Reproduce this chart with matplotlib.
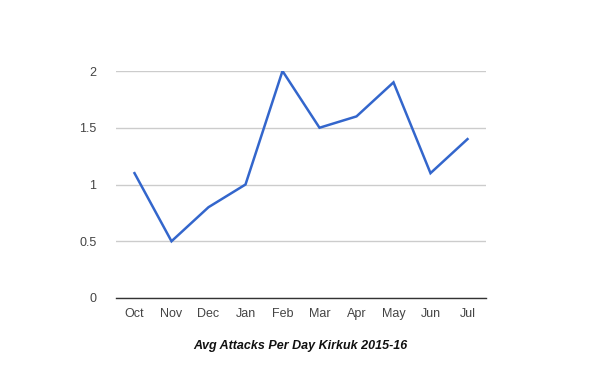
import matplotlib.pyplot as plt

# ── Data ───────────────────────────────────────────────────────────────────────
months = ["Oct", "Nov", "Dec", "Jan", "Feb", "Mar", "Apr", "May", "Jun", "Jul"]
attacks = [1.1, 0.5, 0.8, 1.0, 2.0, 1.5, 1.6, 1.9, 1.1, 1.4]
y_ticks = [0, 0.5, 1, 1.5, 2]
y_labels = ["0", "0.5", "1", "1.5", "2"]

plt.rcParams["font.family"] = ["Liberation Sans", "DejaVu Sans"]

# ── Chart ──────────────────────────────────────────────────────────────────────
fig = plt.figure(figsize=(6, 3.71), dpi=100)
ax = fig.add_axes([116 / 600, 73 / 371, 370 / 600, 227 / 371])

x = list(range(len(months)))
ax.plot(x, attacks, color="#3366cc", linewidth=1.8, solid_joinstyle="miter")

ax.set_xlim(-0.5, len(months) - 0.5)
ax.set_ylim(0, 2)
ax.set_yticks(y_ticks)
ax.set_yticklabels(y_labels)
ax.set_xticks(x)
ax.set_xticklabels(months)
ax.tick_params(length=0, labelsize=9, colors="#444444")
ax.tick_params(axis="y", pad=14)
ax.tick_params(axis="x", pad=7)

ax.grid(axis="y", color="#cccccc", linewidth=1)
ax.set_axisbelow(True)
for side in ["top", "right", "left"]:
    ax.spines[side].set_visible(False)
ax.spines["bottom"].set_color("#333333")
ax.spines["bottom"].set_linewidth(1)
ax.spines["bottom"].set_zorder(3)

fig.text(0.5, 1 - 346 / 371, "Avg Attacks Per Day Kirkuk 2015-16",
         ha="center", va="center", fontsize=9, fontweight="bold",
         fontstyle="italic", color="#111111")

fig.savefig("out.png", dpi=100)
